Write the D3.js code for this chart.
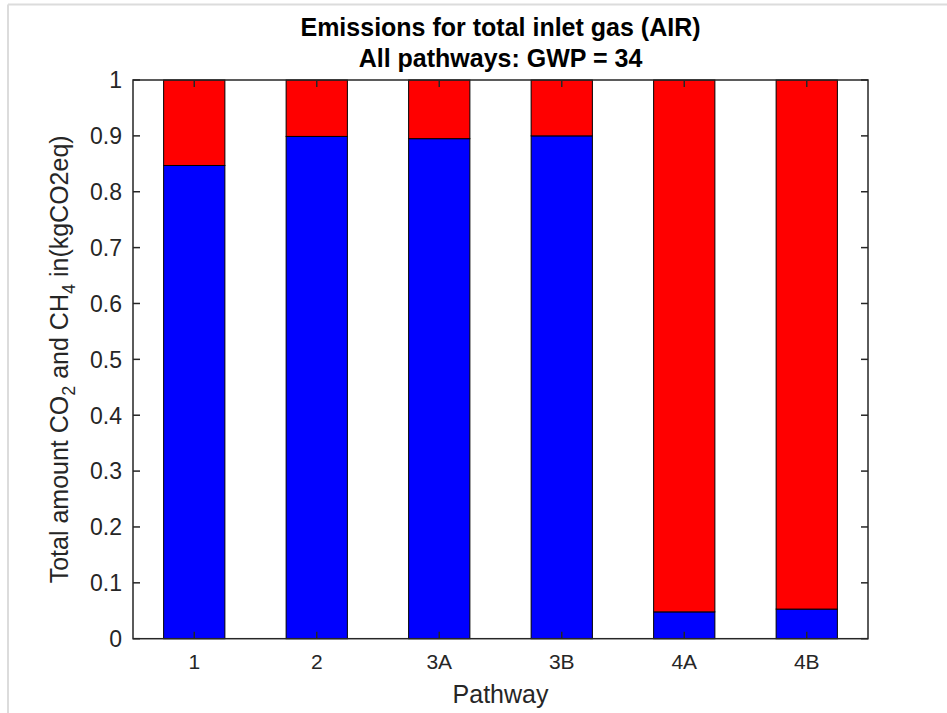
<!DOCTYPE html>
<html>
<head>
<meta charset="utf-8">
<script src="https://cdn.jsdelivr.net/npm/d3@7"></script>
<style>
  body { margin: 0; background: #fff; }
  svg { display: block; font-family: "Liberation Sans", Arial, sans-serif; }
</style>
</head>
<body>
<svg id="chart" width="947" height="713"></svg>
<script>
// Data
const pathways = ['1', '2', '3A', '3B', '4A', '4B']
const co2Share = [0.847, 0.899, 0.895, 0.900, 0.048, 0.053]
const ch4Share = co2Share.map(v => 1 - v)
const yTicks = [0, 0.1, 0.2, 0.3, 0.4, 0.5, 0.6, 0.7, 0.8, 0.9, 1]

const colors = ['#0000ff', '#ff0000']
const textColor = '#262626'

const svg = d3.select('#chart')

// frame edge of the screenshot
svg.append('line').attr('x1', 8).attr('x2', 947).attr('y1', 4.5).attr('y2', 4.5)
    .attr('stroke', '#dcdcdc').attr('stroke-width', 2)
svg.append('line').attr('x1', 8).attr('x2', 8).attr('y1', 4.5).attr('y2', 713)
    .attr('stroke', '#dcdcdc').attr('stroke-width', 2)

// Plot box
const plotLeft = 133, plotRight = 868, plotTop = 80, plotBottom = 638.7

const x = d3.scaleLinear().domain([0.5, pathways.length + 0.5]).range([plotLeft, plotRight])
const y = d3.scaleLinear().domain([0, 1]).range([plotBottom, plotTop])
const barWidth = (x(2) - x(1)) * 0.5

// Stacked data
const stack = d3.stack().keys(['co2', 'ch4'])
const table = pathways.map((p, i) => ({ idx: i + 1, co2: co2Share[i], ch4: ch4Share[i] }))
const series = stack(table)

const g = svg.append('g')

series.forEach(function(s, si){
    g.selectAll('rect.s' + si)
        .data(s)
        .enter()
        .append('rect')
        .attr('class', 's' + si)
        .attr('x', d => x(d.data.idx) - barWidth / 2)
        .attr('width', barWidth)
        .attr('y', d => y(d[1]))
        .attr('height', d => y(d[0]) - y(d[1]))
        .style('fill', colors[si])
        .style('stroke', '#000')
        .style('stroke-width', 1)
})

// Axes (MATLAB style, ticks inside, box on)
const tickLen = 7
const axisG = svg.append('g').attr('stroke', textColor).attr('stroke-width', 1.5)

axisG.append('rect')
    .attr('x', plotLeft).attr('y', plotTop)
    .attr('width', plotRight - plotLeft).attr('height', plotBottom - plotTop)
    .attr('fill', 'none')

yTicks.forEach(function(t){
    axisG.append('line').attr('x1', plotLeft).attr('x2', plotLeft + tickLen)
        .attr('y1', y(t)).attr('y2', y(t))
    axisG.append('line').attr('x1', plotRight).attr('x2', plotRight - tickLen)
        .attr('y1', y(t)).attr('y2', y(t))
})

pathways.forEach(function(p, i){
    axisG.append('line').attr('x1', x(i + 1)).attr('x2', x(i + 1))
        .attr('y1', plotBottom).attr('y2', plotBottom - tickLen)
    axisG.append('line').attr('x1', x(i + 1)).attr('x2', x(i + 1))
        .attr('y1', plotTop).attr('y2', plotTop + tickLen)
})

// Tick labels
svg.append('g').selectAll('text')
    .data(yTicks)
    .enter()
    .append('text')
    .attr('x', plotLeft - 11)
    .attr('y', d => y(d))
    .attr('dy', '0.36em')
    .attr('text-anchor', 'end')
    .style('font-size', '23px')
    .style('fill', textColor)
    .text(d => d3.format('~g')(d))

svg.append('g').selectAll('text')
    .data(pathways)
    .enter()
    .append('text')
    .attr('x', (d, i) => x(i + 1))
    .attr('y', plotBottom + 30)
    .attr('text-anchor', 'middle')
    .style('font-size', '21px')
    .style('fill', textColor)
    .text(d => d)

// Titles
const midX = (plotLeft + plotRight) / 2
svg.append('text').attr('x', midX).attr('y', 36)
    .attr('text-anchor', 'middle')
    .style('font-size', '25px').style('font-weight', 'bold').style('fill', '#000')
    .text('Emissions for total inlet gas (AIR)')
svg.append('text').attr('x', midX).attr('y', 67)
    .attr('text-anchor', 'middle')
    .style('font-size', '25px').style('font-weight', 'bold').style('fill', '#000')
    .text('All pathways: GWP = 34')

// X label
svg.append('text').attr('x', midX).attr('y', 703)
    .attr('text-anchor', 'middle')
    .style('font-size', '25px').style('fill', textColor)
    .text('Pathway')

// Y label with subscripts
const yLabel = svg.append('text')
    .attr('transform', 'translate(68,' + ((plotTop + plotBottom) / 2) + ') rotate(-90)')
    .attr('text-anchor', 'middle')
    .style('font-size', '25px').style('fill', textColor)
yLabel.append('tspan').text('Total amount CO')
yLabel.append('tspan').attr('dy', 7).style('font-size', '18px').text('2')
yLabel.append('tspan').attr('dy', -7).text(' and CH')
yLabel.append('tspan').attr('dy', 7).style('font-size', '18px').text('4')
yLabel.append('tspan').attr('dy', -7).text(' in(kgCO2eq)')
</script>
</body>
</html>
